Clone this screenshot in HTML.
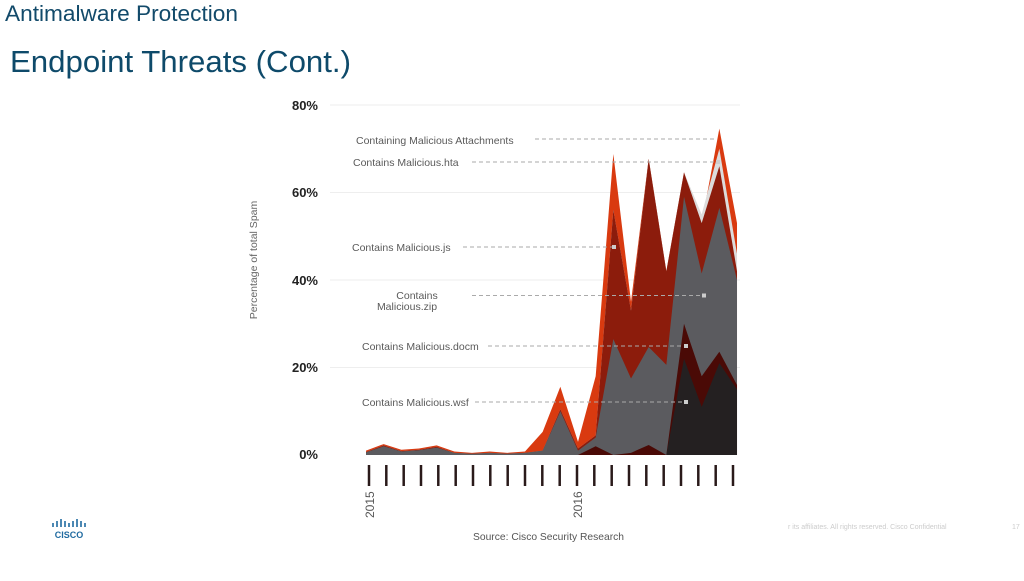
<!DOCTYPE html>
<html><head><meta charset="utf-8"><style>
body{margin:0;width:1024px;height:576px;background:#fff;overflow:hidden;font-family:"Liberation Sans",sans-serif;}
</style></head><body>
<svg width="1024" height="576" viewBox="0 0 1024 576" xmlns="http://www.w3.org/2000/svg" font-family="Liberation Sans, sans-serif">
<text x="5" y="21" font-size="22" fill="#124a6a" textLength="233" lengthAdjust="spacingAndGlyphs">Antimalware Protection</text>
<text x="10" y="72" font-size="31" fill="#0e4a6a" textLength="341" lengthAdjust="spacingAndGlyphs">Endpoint Threats (Cont.)</text>
<g stroke="#eeeeee" stroke-width="1">
<line x1="330" y1="105" x2="740" y2="105"/><line x1="330" y1="192.5" x2="740" y2="192.5"/>
<line x1="330" y1="280" x2="740" y2="280"/><line x1="330" y1="367.5" x2="740" y2="367.5"/>
</g>
<g font-size="13" fill="#222" text-anchor="end" font-weight="bold">
<text x="318" y="110">80%</text><text x="318" y="197">60%</text><text x="318" y="285">40%</text><text x="318" y="372">20%</text><text x="318" y="459">0%</text>
</g>
<text transform="translate(257,260) rotate(-90)" text-anchor="middle" font-size="10.5" fill="#666">Percentage of total Spam</text>
<g transform="translate(366,455) scale(17.667,-4.375)">
<polygon fill="#d93a10" points="0,0 0,1 1,2.5 2,1.2 3,1.5 4,2.2 5,0.8 6,0.5 7,0.8 8,0.5 9,0.8 10,5.3 11,15.6 12,3 13,18 14,68.8 15,35 16,67.7 17,42 18,64.6 19,53 20,74.6 21,53 21,0"/>
<polygon fill="#dcdcdc" points="0,0 0,0.7 1,2.2 2,0.9 3,1.2 4,1.9 5,0.5 6,0.3 7,0.5 8,0.3 9,0.5 10,1 11,10.5 12,1.5 13,4.5 14,56 15,33 16,67.7 17,42 18,64.6 19,55 20,70 21,46 21,0"/>
<polygon fill="#8c1c0c" points="0,0 0,0.7 1,2.2 2,0.9 3,1.2 4,1.9 5,0.5 6,0.3 7,0.5 8,0.3 9,0.5 10,1 11,10.5 12,1.5 13,4.5 14,56 15,33 16,67.7 17,42 18,64.6 19,53 20,66 21,42 21,0"/>
<polygon fill="#5b5b5f" points="0,0 0,0.6 1,2 2,0.8 3,1.1 4,1.7 5,0.5 6,0.3 7,0.5 8,0.3 9,0.5 10,1 11,10 12,1 13,4 14,26.5 15,17.5 16,24.7 17,20.6 18,59 19,41.5 20,56.5 21,40 21,0"/>
<polygon fill="#4a0a06" points="12,0 13,2 14,0 15,0.5 16,2.3 17,0 18,30 19,18 20,23.6 21,16 21,0"/>
<polygon fill="#242021" points="17,0 18,22 19,11 20,21 21,15 21,0"/>
</g>
<g stroke="#aaa" stroke-width="1" stroke-dasharray="4,3">
<line x1="535" y1="139" x2="716" y2="139"/>
<line x1="472" y1="162" x2="716" y2="162"/>
<line x1="463" y1="247" x2="612" y2="247"/>
<line x1="472" y1="295.5" x2="702" y2="295.5"/>
<line x1="488" y1="346" x2="684" y2="346"/>
<line x1="475" y1="402" x2="684" y2="402"/>
</g>
<g fill="#ccc"><rect x="716" y="160" width="4" height="4"/><rect x="612" y="245" width="4" height="4"/><rect x="702" y="293.5" width="4" height="4"/><rect x="684" y="344" width="4" height="4"/><rect x="684" y="400" width="4" height="4"/></g>
<g font-size="10.5" fill="#5a5a5a">
<text x="356" y="144">Containing Malicious Attachments</text>
<text x="353" y="166">Contains Malicious.hta</text>
<text x="352" y="251">Contains Malicious.js</text>
<text x="417" y="299" text-anchor="middle">Contains</text>
<text x="407" y="310" text-anchor="middle">Malicious.zip</text>
<text x="362" y="350">Contains Malicious.docm</text>
<text x="362" y="406">Contains Malicious.wsf</text>
</g>
<g stroke="#2a1a1a" stroke-width="2.5">
<line x1="369" y1="465" x2="369" y2="486"/><line x1="386.3" y1="465" x2="386.3" y2="486"/><line x1="403.7" y1="465" x2="403.7" y2="486"/><line x1="421" y1="465" x2="421" y2="486"/><line x1="438.3" y1="465" x2="438.3" y2="486"/><line x1="455.7" y1="465" x2="455.7" y2="486"/><line x1="473" y1="465" x2="473" y2="486"/><line x1="490.3" y1="465" x2="490.3" y2="486"/><line x1="507.7" y1="465" x2="507.7" y2="486"/><line x1="525" y1="465" x2="525" y2="486"/><line x1="542.3" y1="465" x2="542.3" y2="486"/><line x1="559.7" y1="465" x2="559.7" y2="486"/><line x1="577" y1="465" x2="577" y2="486"/><line x1="594.3" y1="465" x2="594.3" y2="486"/><line x1="611.7" y1="465" x2="611.7" y2="486"/><line x1="629" y1="465" x2="629" y2="486"/><line x1="646.3" y1="465" x2="646.3" y2="486"/><line x1="663.7" y1="465" x2="663.7" y2="486"/><line x1="681" y1="465" x2="681" y2="486"/><line x1="698.3" y1="465" x2="698.3" y2="486"/><line x1="715.7" y1="465" x2="715.7" y2="486"/><line x1="733" y1="465" x2="733" y2="486"/>
</g>
<text transform="translate(374,518) rotate(-90)" font-size="12" fill="#555">2015</text>
<text transform="translate(582,518) rotate(-90)" font-size="12" fill="#555">2016</text>
<text x="473" y="540" font-size="10.5" fill="#555" textLength="151" lengthAdjust="spacingAndGlyphs">Source: Cisco Security Research</text>
<text x="788" y="529" font-size="7" fill="#ccc">r its affiliates. All rights reserved.   Cisco Confidential</text>
<text x="1012" y="529" font-size="7" fill="#ccc">17</text>
<g stroke="#1f6aa0" stroke-width="1.6">
<line x1="53" y1="523" x2="53" y2="527"/><line x1="57" y1="521" x2="57" y2="527"/><line x1="61" y1="519" x2="61" y2="527"/><line x1="65" y1="521" x2="65" y2="527"/><line x1="69" y1="523" x2="69" y2="527"/><line x1="73" y1="521" x2="73" y2="527"/><line x1="77" y1="519" x2="77" y2="527"/><line x1="81" y1="521" x2="81" y2="527"/><line x1="85" y1="523" x2="85" y2="527"/>
</g>
<text x="69" y="538" font-size="9" font-weight="bold" fill="#1f6aa0" text-anchor="middle">CISCO</text>
</svg>
</body></html>
